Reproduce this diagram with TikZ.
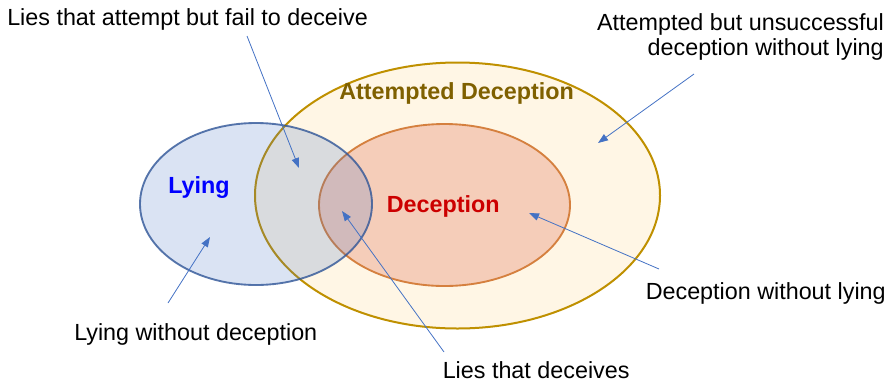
\documentclass[tikz,border=0pt]{standalone}
\usepackage{fontspec}
\setmainfont{Liberation Sans}
\usetikzlibrary{shapes.geometric,arrows.meta}
\definecolor{attfill}{HTML}{FFF6E5}
\definecolor{attline}{HTML}{BF9000}
\definecolor{attText}{HTML}{7F6000}
\definecolor{decfill}{HTML}{F5CDB9}
\definecolor{decline}{HTML}{D5803F}
\definecolor{lyfill}{HTML}{4472C4}
\definecolor{lyline}{HTML}{2F5597}
\definecolor{pointer}{HTML}{4472C4}
\begin{document}
\begin{tikzpicture}[x=0.75pt,y=-0.75pt,
        set/.style={ellipse, inner sep=0pt},
        lbl/.style={inner sep=0pt, font=\fontsize{17.5}{18.75}\selectfont},
        title/.style={lbl, font=\fontsize{17.5}{18.75}\selectfont\bfseries},
        pointer/.style={draw=pointer, line width=0.6pt, -{Triangle[length=7.5pt,width=5.5pt]}}]
        \useasboundingbox (0,0) rectangle (888,383);
        % the three sets
        \node[set, draw=attline, line width=1.5pt, fill=attfill, minimum width=303.75pt, minimum height=199.5pt] (att) at (457.5,195.5) {};
        \node[set, draw=decline, line width=1.4pt, fill=decfill, minimum width=188.25pt, minimum height=121.5pt] (dec) at (444.5,205) {};
        \node[set, draw=lyline, draw opacity=0.8, line width=1.4pt, fill=lyfill, fill opacity=0.2, minimum width=174pt, minimum height=121.5pt] (ly) at (256,204) {};
        % set names
        \node[title, text=attText, anchor=base west] (attname) at (339,99) {Attempted Deception};
        \node[title, text=blue, anchor=base west] (lyname) at (168,193.3) {Lying};
        \node[title, text=red!80!black, anchor=base west] (decname) at (386.5,212.7) {Deception};
        % region labels
        \node[lbl, anchor=base west] (failLies) at (7,25) {Lies that attempt but fail to deceive};
        \node[lbl, anchor=east, align=right] (failDec) at (884,36.5) {Attempted but unsuccessful\\deception without lying};
        \node[lbl, anchor=base west] (decOnly) at (645.5,299) {Deception without lying};
        \node[lbl, anchor=base west] (lyOnly) at (74,340) {Lying without deception};
        \node[lbl, anchor=base west] (lyDec) at (442.5,378.5) {Lies that deceives};
        % pointers
        \coordinate (failLiesT) at (247,36);
        \coordinate (failLiesH) at (299,168);
        \coordinate (failDecT) at (694,74);
        \coordinate (failDecH) at (598,143);
        \coordinate (decOnlyT) at (659,269);
        \coordinate (decOnlyH) at (529,213);
        \coordinate (lyOnlyT) at (168,303);
        \coordinate (lyOnlyH) at (210,237);
        \coordinate (lyDecT) at (444,352);
        \coordinate (lyDecH) at (342,211);
        \draw[pointer] (failLiesT) -- (failLiesH);
        \draw[pointer] (failDecT) -- (failDecH);
        \draw[pointer] (decOnlyT) -- (decOnlyH);
        \draw[pointer] (lyOnlyT) -- (lyOnlyH);
        \draw[pointer] (lyDecT) -- (lyDecH);
\end{tikzpicture}
\end{document}
